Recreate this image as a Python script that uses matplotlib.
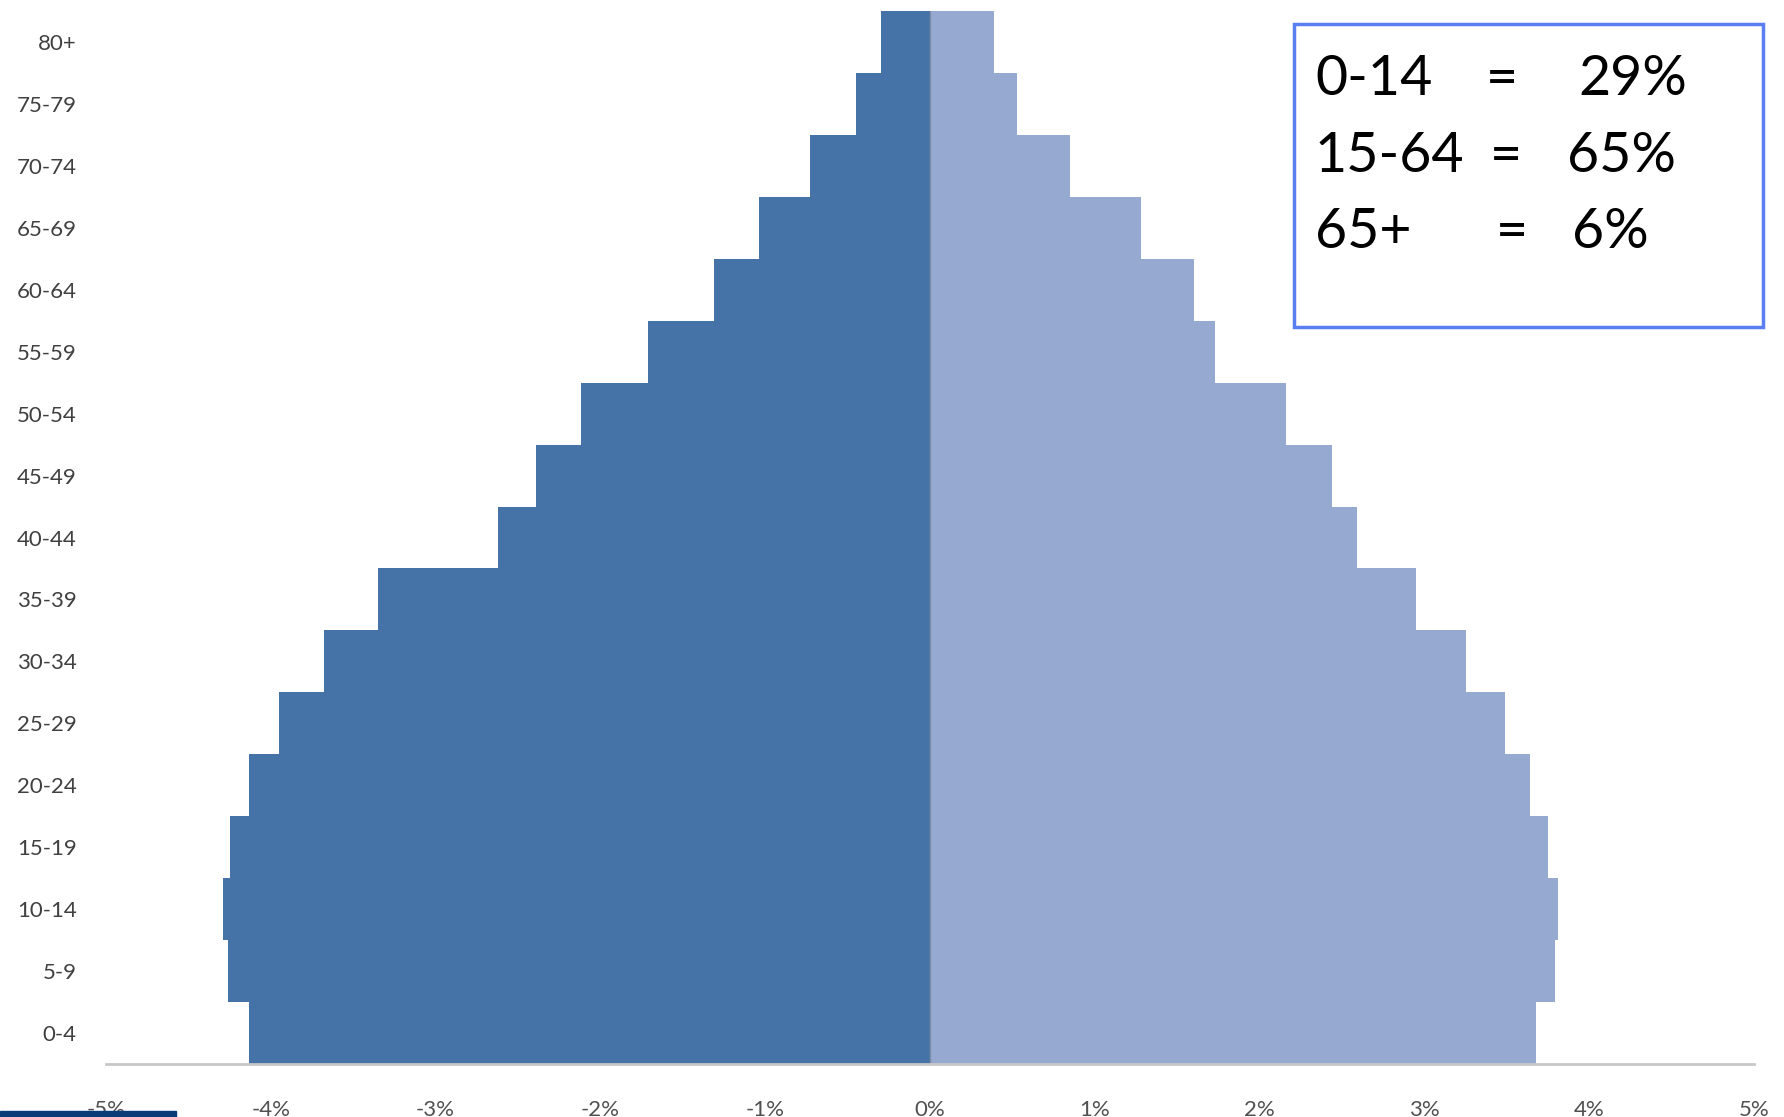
import matplotlib.pyplot as plt
from matplotlib.patches import Rectangle

# age groups from youngest to oldest
age_groups = ['0-4', '5-9', '10-14', '15-19', '20-24', '25-29', '30-34', '35-39',
              '40-44', '45-49', '50-54', '55-59', '60-64', '65-69', '70-74', '75-79', '80+']

# share of total population (%), left side shown as negative
male = [-4.13, -4.26, -4.29, -4.25, -4.13, -3.95, -3.68, -3.35,
        -2.62, -2.39, -2.12, -1.71, -1.31, -1.04, -0.73, -0.45, -0.30]
female = [3.68, 3.79, 3.81, 3.75, 3.64, 3.49, 3.25, 2.95,
          2.59, 2.44, 2.16, 1.73, 1.60, 1.28, 0.85, 0.53, 0.39]

x_ticks = [-5, -4, -3, -2, -1, 0, 1, 2, 3, 4, 5]
x_labels = ['-5%', '-4%', '-3%', '-2%', '-1%', '0%', '1%', '2%', '3%', '4%', '5%']

summary_groups = ['0-14', '15-64', '65+']
summary_shares = ['29%', '65%', '6%']

plt.rcParams['font.family'] = ['Lato', 'DejaVu Sans']

fig = plt.figure(figsize=(17.84, 11.17), dpi=100)
ax = fig.add_axes([0.0594, 0.0474, 0.9238, 0.9428])

y = range(len(age_groups))
ax.barh(y, male, height=1.0, color='#4573A7', edgecolor='none')
ax.barh(y, female, height=1.0, color='#96AAD1', edgecolor='none')
ax.axvline(0, color='#7f8fa8', lw=1)

ax.set_xlim(-5, 5)
ax.set_ylim(-0.5, len(age_groups) - 0.5)
ax.set_yticks(list(y))
ax.set_yticklabels(age_groups, fontsize=16, color='#404040')
ax.set_xticks(x_ticks)
ax.set_xticklabels(x_labels, fontsize=16, color='#505050')
ax.tick_params(axis='both', length=0)
ax.tick_params(axis='x', pad=26)
ax.tick_params(axis='y', pad=21)

for side in ['top', 'right', 'left']:
    ax.spines[side].set_visible(False)
ax.spines['bottom'].set_color('#c8c8c8')
ax.spines['bottom'].set_linewidth(2)

# summary box in the upper right
box = Rectangle((1294 / 1784, 1 - 327 / 1117), (1763 - 1294) / 1784, (327 - 24) / 1117,
                transform=fig.transFigure, fill=False, edgecolor='#5b7ff0', lw=2.5)
fig.patches.append(box)

baselines = [95, 172, 248]
eq_x = [1502, 1506, 1512]
pct_x = [1578, 1567, 1572]
for grp, share, yb, ex, px in zip(summary_groups, summary_shares, baselines, eq_x, pct_x):
    yf = 1 - yb / 1117
    fig.text(1315 / 1784, yf, grp, fontsize=40, va='baseline', ha='left', color='black')
    fig.text(ex / 1784, yf, '=', fontsize=40, va='baseline', ha='center', color='black')
    fig.text(px / 1784, yf, share, fontsize=40, va='baseline', ha='left', color='black')

# navy strip at the bottom left corner
fig.patches.append(Rectangle((0, 0), 176 / 1784, 6 / 1117, transform=fig.transFigure,
                             color='#0b3c78', zorder=10))

fig.savefig('out.png', dpi=100)
